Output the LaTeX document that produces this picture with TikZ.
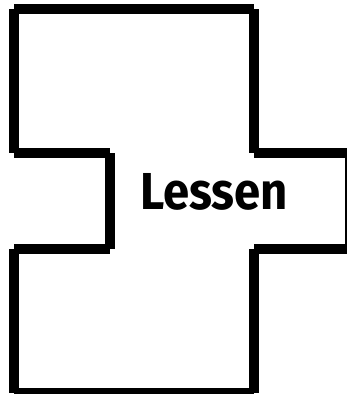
\documentclass[tikz,border=0pt]{standalone}
\usepackage{fontspec}
\setmainfont{Fira Sans}
\begin{document}
\begin{tikzpicture}[x=1pt,y=-1pt,
  wall/.style={line width=10pt,line cap=butt,black},
  label/.style={font=\fontsize{52}{60}\selectfont\bfseries,inner sep=0pt}]
\useasboundingbox (0,0) rectangle (346,394);
\draw[wall] (14,9) -- (254,9);
\draw[wall] (14,9) -- (14,153);
\draw[wall] (254,9) -- (254,153);
\draw[wall] (14,153) -- (110,153);
\draw[wall] (110,153) -- (110,249);
\draw[wall] (254,153) -- (350,153);
\draw[wall] (350,153) -- (350,249);
\draw[wall] (14,249) -- (110,249);
\draw[wall] (254,249) -- (350,249);
\draw[wall] (14,249) -- (14,393);
\draw[wall] (254,249) -- (254,393);
\draw[wall] (14,393) -- (254,393);
\node[label,anchor=base west,xscale=0.91] (lessen) at (140,209) {Lessen};
\end{tikzpicture}
\end{document}
